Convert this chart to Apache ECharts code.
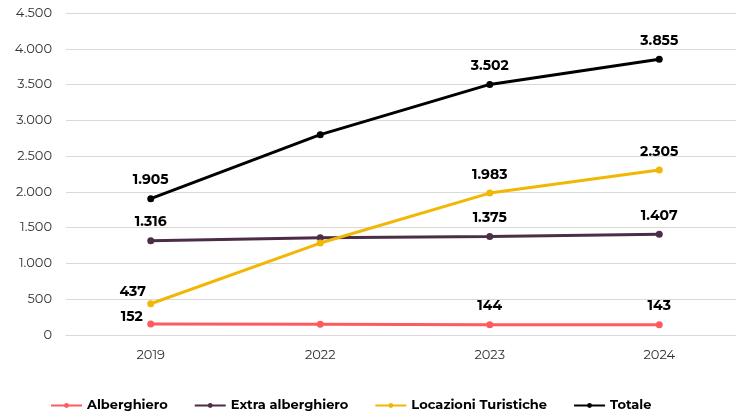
<!DOCTYPE html>
<html><head><meta charset="utf-8">
<script src="https://cdn.jsdelivr.net/npm/echarts@6/dist/echarts.min.js"></script>
<style>html,body{margin:0;padding:0;background:#fff;overflow:hidden;width:736px;height:418px}#c{width:750px;height:418px}</style>
</head><body><div id="c"></div>
<script>
const categories = ['2019', '2022', '2023', '2024'];
const alberghiero = [152, 150, 144, 143];
const extraAlberghiero = [1316, 1360, 1375, 1407];
const locazioniTuristiche = [437, 1285, 1983, 2305];
const totale = [1905, 2800, 3502, 3855];
const showLabel = [true, false, true, true];

const fmt = v => String(v).replace(/\B(?=(\d{3})+(?!\d))/g, '.');

function mk(name, data, color, offsets) {
  return {
    name, type: 'line', data: data.map((v, i) => ({
      value: v,
      label: { show: showLabel[i], offset: (offsets && offsets[i]) || [0, 0] }
    })),
    symbol: 'circle', symbolSize: 7,
    lineStyle: { color, width: 3 }, itemStyle: { color },
    label: {
      position: 'top', distance: 8, color: '#000', fontWeight: 'bold', fontSize: 14,
      fontFamily: 'Montserrat, "Noto Sans", sans-serif',
      formatter: p => fmt(p.value)
    }
  };
}

const chart = echarts.init(document.getElementById('c'));
chart.setOption({
  animation: false,
  grid: { left: 66, width: 678, top: 13, bottom: 83, outerBoundsMode: 'none', containLabel: false },
  legend: {
    left: 50, bottom: 6, padding: 0, itemWidth: 31, itemHeight: 6, itemGap: 26,
    textStyle: { fontFamily: 'Montserrat, "Noto Sans", sans-serif', fontWeight: 'bold', fontSize: 13, color: '#000' }
  },
  xAxis: {
    type: 'category', data: categories, boundaryGap: true,
    axisLine: { lineStyle: { color: '#d9d9d9' } }, axisTick: { show: false },
    axisLabel: { color: '#333', fontSize: 13, margin: 14, fontFamily: 'Montserrat, "Noto Sans", sans-serif' }
  },
  yAxis: {
    type: 'value', min: 0, max: 4500, interval: 500,
    axisLine: { show: false }, axisTick: { show: false },
    splitLine: { lineStyle: { color: '#d9d9d9', width: 1 } },
    axisLabel: { color: '#333', fontSize: 13, margin: 14, fontFamily: 'Montserrat, "Noto Sans", sans-serif', formatter: v => fmt(v) }
  },
  series: [
    mk('Alberghiero', alberghiero, '#FF5A5F', [[-19, 11]]),
    mk('Extra alberghiero', extraAlberghiero, '#4B2D47'),
    mk('Locazioni Turistiche', locazioniTuristiche, '#F2B705', [[-18, 7]]),
    mk('Totale', totale, '#000000')
  ]
});
</script></body></html>
